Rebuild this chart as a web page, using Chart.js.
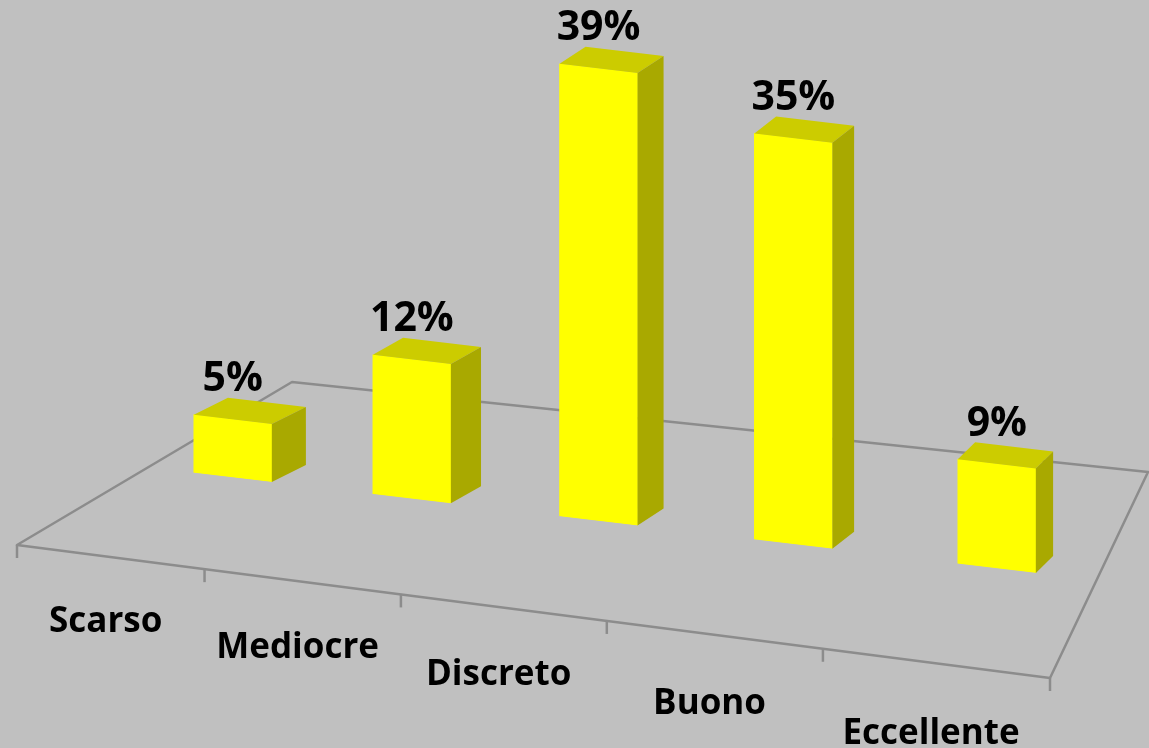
<!DOCTYPE html>
<html lang="it">
<head>
    <meta charset="UTF-8">
    <title>Valutazione</title>
    <style>
        body {
            margin: 0;
            padding: 0;
            background-color: #c0c0c0;
        }
        .chart-box {
            width: 1149px;
            height: 748px;
            position: relative;
        }
    </style>
    <script src="https://cdn.jsdelivr.net/npm/chart.js"></script>
</head>
<body>
    <div class="chart-box">
        <canvas id="votiChart"></canvas>
    </div>

    <script>
        // dati
        const categories = ['Scarso', 'Mediocre', 'Discreto', 'Buono', 'Eccellente'];
        const percentValues = [5, 12, 39, 35, 9];

        // effetto prospettiva
        const SHEAR = 0.119;
        const DEPTH_Y = -17;
        const PERSPECTIVE = 1.1125;
        const floorQuad = [[17, 545], [1050, 678], [1148, 472], [292, 382]]; // davanti sx, davanti dx, dietro dx, dietro sx

        // scala categorie con spaziatura in prospettiva (piu' larga verso destra)
        class PerspectiveScale extends Chart.CategoryScale {
            getPixelForDecimal(decimal) {
                const t = decimal / (PERSPECTIVE - (PERSPECTIVE - 1) * decimal);
                return super.getPixelForDecimal(t);
            }
        }
        PerspectiveScale.id = 'perspective';
        PerspectiveScale.defaults = Chart.CategoryScale.defaults;
        Chart.register(PerspectiveScale);

        // omografia quadrato unitario -> pavimento
        function makeFloorMap(q) {
            const [x0, y0] = q[0], [x1, y1] = q[1], [x2, y2] = q[2], [x3, y3] = q[3];
            const dx1 = x1 - x2, dx2 = x3 - x2, dx3 = x0 - x1 + x2 - x3;
            const dy1 = y1 - y2, dy2 = y3 - y2, dy3 = y0 - y1 + y2 - y3;
            const den = dx1 * dy2 - dx2 * dy1;
            const g = (dx3 * dy2 - dx2 * dy3) / den;
            const h = (dx1 * dy3 - dx3 * dy1) / den;
            const a = x1 - x0 + g * x1, b = x3 - x0 + h * x3;
            const d = y1 - y0 + g * y1, e = y3 - y0 + h * y3;
            return (u, v) => {
                const w = g * u + h * v + 1;
                return [(a * u + b * v + x0) / w, (d * u + e * v + y0) / w];
            };
        }
        const floorAt = makeFloorMap(floorQuad);

        const bars3d = {
            id: 'bars3d',
            beforeDatasetsDraw(chart) {
                const ctx = chart.ctx;
                const area = chart.chartArea;
                const n = categories.length;

                // pavimento
                ctx.save();
                ctx.strokeStyle = '#8c8c8c';
                ctx.lineWidth = 2.5;
                ctx.lineJoin = 'round';
                ctx.beginPath();
                floorQuad.forEach((p, i) => i ? ctx.lineTo(p[0], p[1]) : ctx.moveTo(p[0], p[1]));
                ctx.closePath();
                ctx.stroke();
                for (let i = 0; i <= n; i++) {
                    const p = floorAt(i / n, 0);
                    ctx.beginPath();
                    ctx.moveTo(p[0], p[1]);
                    ctx.lineTo(p[0], p[1] + 13);
                    ctx.stroke();
                }

                // etichette categorie
                ctx.fillStyle = '#000';
                ctx.font = 'bold 35px "Open Sans"';
                ctx.textAlign = 'center';
                ctx.textBaseline = 'middle';
                categories.forEach((c, i) => {
                    const u = (i + 0.5) / n;
                    const p = floorAt(u, 0);
                    ctx.fillText(c, p[0] - 4, p[1] + 64 + 8 * u);
                });
                ctx.restore();

                // le barre vengono disegnate inclinate
                ctx.save();
                ctx.transform(1, SHEAR, 0, 1, 0, -SHEAR * area.left);
            },
            afterDatasetsDraw(chart) {
                const ctx = chart.ctx;
                ctx.restore();
                const area = chart.chartArea;
                const S = (x, y) => [x, y + SHEAR * (x - area.left)];
                const meta = chart.getDatasetMeta(0);

                meta.data.forEach((bar, i) => {
                    const { x, y, base, width } = bar.getProps(['x', 'y', 'base', 'width'], true);
                    const xl = x - width / 2, xr = x + width / 2;
                    const dx = 36 - 0.022 * (x - area.left);
                    const dy = DEPTH_Y;
                    const ftl = S(xl, y), ftr = S(xr, y), fbr = S(xr, base);

                    // faccia superiore
                    ctx.fillStyle = '#cccc00';
                    ctx.beginPath();
                    ctx.moveTo(ftl[0], ftl[1]);
                    ctx.lineTo(ftr[0], ftr[1]);
                    ctx.lineTo(ftr[0] + dx, ftr[1] + dy);
                    ctx.lineTo(ftl[0] + dx, ftl[1] + dy);
                    ctx.closePath();
                    ctx.fill();

                    // faccia laterale
                    ctx.fillStyle = '#a9a900';
                    ctx.beginPath();
                    ctx.moveTo(ftr[0], ftr[1]);
                    ctx.lineTo(ftr[0] + dx, ftr[1] + dy);
                    ctx.lineTo(fbr[0] + dx, fbr[1] + dy);
                    ctx.lineTo(fbr[0], fbr[1]);
                    ctx.closePath();
                    ctx.fill();

                    // percentuale
                    const top = S(x, y);
                    ctx.fillStyle = '#000';
                    ctx.font = 'bold 41px "Open Sans"';
                    ctx.textAlign = 'center';
                    ctx.textBaseline = 'alphabetic';
                    ctx.fillText(percentValues[i] + '%', x, top[1] + dy - 11);
                });
            }
        };

        const ctx = document.getElementById('votiChart').getContext('2d');
        const votiChart = new Chart(ctx, {
            type: 'bar',
            data: {
                labels: categories,
                datasets: [
                    {
                        label: 'Valutazione',
                        data: percentValues,
                        backgroundColor: '#ffff00',
                        borderWidth: 0,
                        barThickness: 78,
                    },
                ],
            },
            options: {
                responsive: true,
                maintainAspectRatio: false,
                animation: false,
                layout: {
                    padding: { left: 146, right: 47, top: 3, bottom: 281 },
                },
                plugins: {
                    legend: { display: false },
                    tooltip: { enabled: false },
                },
                scales: {
                    x: { type: 'perspective', display: false },
                    y: { display: false, min: 0, max: 40 },
                },
            },
            plugins: [bars3d],
        });
    </script>
</body>
</html>
